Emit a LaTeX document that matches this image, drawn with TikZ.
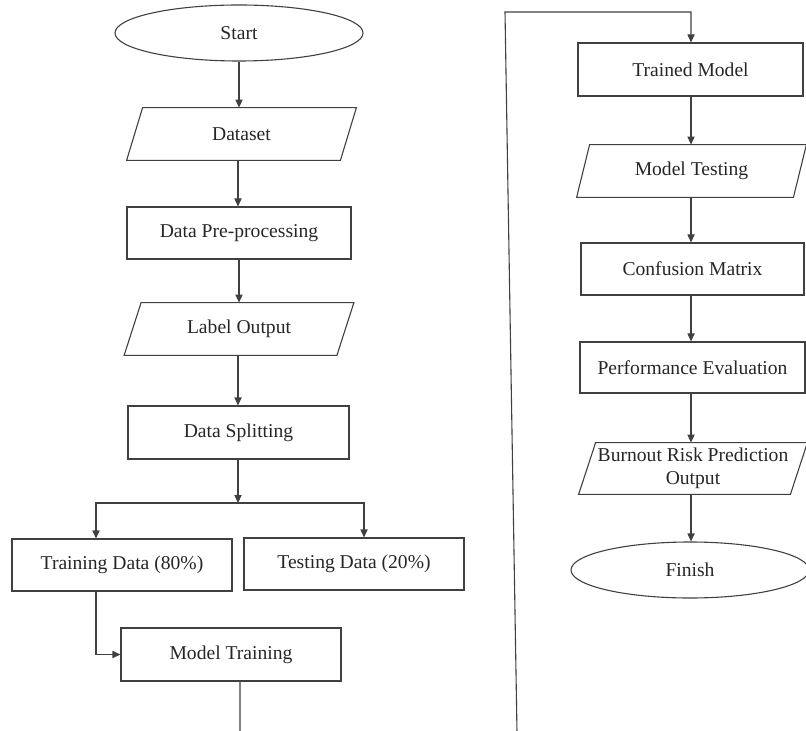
\documentclass[tikz,border=0pt]{standalone}
\usepackage{fontspec}
\setmainfont{Liberation Serif}
\usetikzlibrary{arrows.meta,shapes.geometric,calc}
\begin{document}
\begin{tikzpicture}[x=0.5pt,y=-0.5pt,
  every node/.style={font=\fontsize{9.8}{11.5}\selectfont, text=black!85, align=center, inner sep=0pt},
  line/.style={draw=black!75, line width=0.55pt},
  arr/.style={line, -{Triangle[length=4pt,width=3.6pt]}},
  procbox/.style={line, rectangle},
  termbox/.style={line, ellipse},
  iobox/.style={rectangle},
  iodraw/.style={line}]
\useasboundingbox (0,0) rectangle (806,731);

% left column
\node[termbox, minimum width=124pt, minimum height=28pt] (start) at (239,33) {Start};
\node[iobox, minimum width=106.5pt, minimum height=26pt] (dataset) at (241.5,134) {Dataset};
\draw[iodraw] ([xshift=-4pt]dataset.south west) -- ([xshift=-4pt]dataset.south east) -- ([xshift=4pt]dataset.north east) -- ([xshift=4pt]dataset.north west) -- cycle;
\node[procbox, minimum width=112pt, minimum height=26pt] (pre) at (239,233) {Data Pre-processing};
\node[iobox, minimum width=106pt, minimum height=26pt] (label) at (239,329) {Label Output};
\draw[iodraw] ([xshift=-4.25pt]label.south west) -- ([xshift=-4.25pt]label.south east) -- ([xshift=4.25pt]label.north east) -- ([xshift=4.25pt]label.north west) -- cycle;
\node[procbox, minimum width=110.5pt, minimum height=26.5pt] (split) at (238.5,432.5) {Data Splitting};
\node[procbox, minimum width=110pt, minimum height=26pt] (train) at (122,565) {Training Data (80\%)};
\node[procbox, minimum width=110pt, minimum height=26pt] (test) at (354,564) {Testing Data (20\%)};
\node[procbox, minimum width=110pt, minimum height=26.5pt] (model) at (231,654.5) {Model Training};

% right column
\node[procbox, minimum width=112.5pt, minimum height=26.5pt] (trained) at (690.5,69.5) {Trained Model};
\node[iobox, minimum width=108pt, minimum height=26pt] (mtest) at (691.5,171) {Model Testing};
\draw[iodraw] ([xshift=-3.25pt]mtest.south west) -- ([xshift=-3.25pt]mtest.south east) -- ([xshift=3.25pt]mtest.north east) -- ([xshift=3.25pt]mtest.north west) -- cycle;
\node[procbox, minimum width=111.5pt, minimum height=26pt] (conf) at (692.5,269) {Confusion Matrix};
\node[procbox, minimum width=112.5pt, minimum height=25.5pt] (perf) at (692.5,367.5) {Performance Evaluation};
\node[iobox, minimum width=105.5pt, minimum height=25.5pt] (burn) at (693,468.5) {Burnout Risk Prediction\\Output};
\draw[iodraw] ([xshift=-4.25pt]burn.south west) -- ([xshift=-4.25pt]burn.south east) -- ([xshift=4.25pt]burn.north east) -- ([xshift=4.25pt]burn.north west) -- cycle;
\node[termbox, minimum width=119pt, minimum height=28pt] (finish) at (690,570) {Finish};

% connectors left
\draw[arr] (start.south) -- (start.south |- dataset.north);
\draw[arr] ([xshift=-1.75pt]dataset.south) -- ([xshift=-1.75pt]dataset.south |- pre.north);
\draw[arr] (pre.south) -- (pre.south |- label.north);
\draw[arr] ([xshift=-0.5pt]label.south) -- ([xshift=-0.5pt]label.south |- split.north);
\coordinate (junc) at (238,503);
\draw[arr] (split.south -| junc) -- (junc);
\coordinate (jl) at (96,503);
\coordinate (jr) at (364,503);
\draw[arr] (junc) -- (jl) -- (jl |- train.north);
\draw[arr] (junc) -- (jr) -- (jr |- test.north);
\draw[arr] (jl |- train.south) |- (model.west);

% long connector (its bottom run lies just below the cropped edge)
\coordinate (b1) at (240,733);
\coordinate (b2) at (517,733);
\coordinate (t1) at (505,12);
\coordinate (t2) at (691,12);
\draw[arr] (model.south -| b1) -- (b1) -- (b2) -- (t1) -- (t2) -- (t2 |- trained.north);

% connectors right
\draw[arr] (trained.south -| t2) -- (t2 |- mtest.north);
\draw[arr] (mtest.south -| t2) -- (t2 |- conf.north);
\draw[arr] (conf.south -| t2) -- (t2 |- perf.north);
\draw[arr] (perf.south -| t2) -- (t2 |- burn.north);
\draw[arr] (burn.south -| t2) -- (t2 |- finish.north);
\end{tikzpicture}
\end{document}
